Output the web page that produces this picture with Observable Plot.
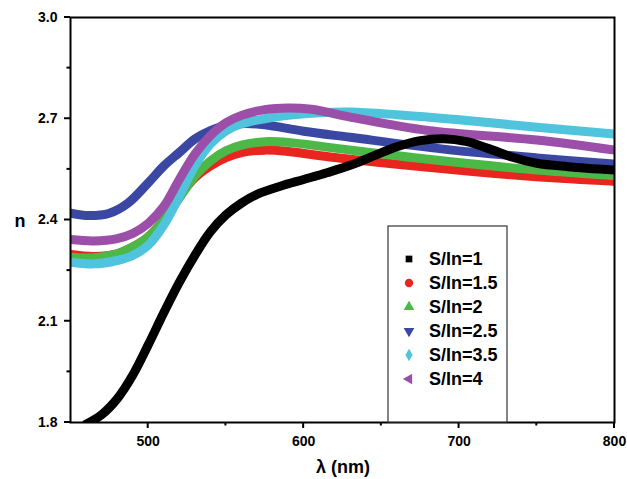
<!DOCTYPE html>
<html><head><meta charset="utf-8">
<script src="https://cdn.jsdelivr.net/npm/d3@7"></script>
<script src="https://cdn.jsdelivr.net/npm/@observablehq/plot@0.6"></script>
<style>body{margin:0;background:#fff}#chart{position:relative;width:627px;height:479px}</style>
</head><body><div id="chart"></div>
<script>
// Series labels and colours
const seriesNames = ["S/In=1", "S/In=1.5", "S/In=2", "S/In=2.5", "S/In=3.5", "S/In=4"];
const seriesColors = ["#000000", "#e8251f", "#4cb848", "#3b48a3", "#4fc4dc", "#9b4fa9"];

// S/In=1 (black)
const lam1 = [460, 470, 480, 490, 500, 510, 520, 530, 540, 550, 560, 570, 585, 600, 615, 630, 645, 660, 675, 690, 705, 720, 735, 750, 770, 800];
const n1   = [1.795, 1.823, 1.87, 1.94, 2.03, 2.125, 2.215, 2.295, 2.365, 2.415, 2.45, 2.476, 2.50, 2.52, 2.54, 2.562, 2.59, 2.617, 2.635, 2.641, 2.632, 2.61, 2.585, 2.568, 2.558, 2.548];
// S/In=1.5 (red)
const lam15 = [450, 465, 480, 490, 500, 510, 520, 530, 540, 550, 560, 575, 590, 620, 680, 750, 800];
const n15   = [2.298, 2.292, 2.30, 2.32, 2.35, 2.40, 2.47, 2.525, 2.56, 2.585, 2.60, 2.607, 2.603, 2.585, 2.556, 2.528, 2.515];
// S/In=2 (green)
const lam2 = [450, 465, 480, 490, 500, 510, 520, 530, 540, 550, 560, 575, 590, 620, 680, 750, 800];
const n2   = [2.29, 2.288, 2.30, 2.32, 2.35, 2.40, 2.465, 2.53, 2.575, 2.605, 2.622, 2.632, 2.63, 2.613, 2.58, 2.548, 2.532];
// S/In=2.5 (blue)
const lam25 = [450, 462, 475, 487, 500, 510, 520, 530, 540, 550, 562, 575, 600, 630, 690, 750, 800];
const n25   = [2.42, 2.413, 2.42, 2.45, 2.51, 2.56, 2.60, 2.64, 2.665, 2.68, 2.686, 2.682, 2.663, 2.645, 2.61, 2.584, 2.566];
// S/In=3.5 (cyan)
const lam35 = [450, 465, 480, 490, 500, 510, 520, 530, 540, 550, 560, 575, 590, 610, 630, 660, 700, 750, 800];
const n35   = [2.275, 2.27, 2.28, 2.295, 2.325, 2.385, 2.47, 2.56, 2.625, 2.664, 2.685, 2.70, 2.71, 2.718, 2.72, 2.712, 2.697, 2.675, 2.655];
// S/In=4 (magenta)
const lam4 = [450, 465, 480, 490, 500, 510, 520, 530, 540, 550, 560, 575, 590, 605, 630, 680, 750, 800];
const n4   = [2.342, 2.338, 2.345, 2.36, 2.39, 2.44, 2.52, 2.595, 2.65, 2.688, 2.71, 2.727, 2.732, 2.728, 2.705, 2.665, 2.637, 2.607];

// Axis ticks
const xTicks = [500, 600, 700, 800];
const xMinor = [550, 650, 750];
const yTicks = [1.8, 2.1, 2.4, 2.7, 3.0];
const yMinor = [1.95, 2.25, 2.55, 2.85];
const xTitle = "λ (nm)";
const yTitle = "n";

const toRows = (lam, n) => lam.map((l, i) => ({lam: l, n: n[i]}));
const series = [
  toRows(lam1, n1), toRows(lam15, n15), toRows(lam2, n2),
  toRows(lam25, n25), toRows(lam35, n35), toRows(lam4, n4)
];
// drawing order: red, green, blue, cyan, magenta, black on top
const drawOrder = [1, 2, 3, 4, 5, 0];

const chart = Plot.plot({
  width: 627, height: 479,
  marginLeft: 70, marginRight: 13, marginTop: 17, marginBottom: 57,
  style: {fontFamily: "'Liberation Sans', Arial, sans-serif", fontWeight: "bold", fontSize: "14px", color: "#000", background: "#fff"},
  x: {domain: [450, 800]},
  y: {domain: [1.8, 3.0]},
  marks: [
    ...drawOrder.map(i => Plot.line(series[i], {x: "lam", y: "n", stroke: seriesColors[i], strokeWidth: 9, curve: "catmull-rom", clip: true})),
    Plot.frame({stroke: "#000", strokeWidth: 2}),
    Plot.axisX({ticks: xTicks, tickSize: 0, tickPadding: 14, tickFormat: d => String(d), label: null}),
    Plot.axisY({ticks: yTicks, tickSize: 0, tickPadding: 13, tickFormat: d3.format(".1f"), label: null})
  ]
});
document.getElementById("chart").appendChild(chart);

const svg = d3.select(chart);
const xs = chart.scale("x"), ys = chart.scale("y");
const x0 = xs.range[0], y0 = ys.range[0];
const tg = svg.append("g").attr("stroke", "#000").attr("stroke-width", 2);
xTicks.forEach(t => tg.append("line").attr("x1", xs.apply(t)).attr("x2", xs.apply(t)).attr("y1", y0).attr("y2", y0 + 6));
xMinor.forEach(t => tg.append("line").attr("x1", xs.apply(t)).attr("x2", xs.apply(t)).attr("y1", y0).attr("y2", y0 + 3.5));
yTicks.forEach(t => tg.append("line").attr("y1", ys.apply(t)).attr("y2", ys.apply(t)).attr("x1", x0).attr("x2", x0 - 6));
yMinor.forEach(t => tg.append("line").attr("y1", ys.apply(t)).attr("y2", ys.apply(t)).attr("x1", x0).attr("x2", x0 - 3.5));

// axis titles
svg.append("text").attr("x", 343).attr("y", 473).attr("text-anchor", "middle")
  .style("font-size", "18px").style("font-weight", "bold").text(xTitle);
svg.append("text").attr("x", 20).attr("y", 227).attr("text-anchor", "middle")
  .style("font-size", "18px").style("font-weight", "bold").text(yTitle);

// legend
const lg = svg.append("g");
lg.append("rect").attr("x", 388).attr("y", 226).attr("width", 119).attr("height", 196)
  .attr("fill", "#fff").attr("stroke", "#333").attr("stroke-width", 1.2);
const symbols = [
  {type: d3.symbolSquare, size: 45, rot: 0},
  {type: d3.symbolCircle, size: 55, rot: 0},
  {type: d3.symbolTriangle, size: 50, rot: 0},
  {type: d3.symbolTriangle, size: 50, rot: 180},
  {type: d3.symbolDiamond, size: 45, rot: 0},
  {type: d3.symbolTriangle, size: 50, rot: -90}
];
seriesNames.forEach((name, i) => {
  const cy = 259 + i * 24;
  lg.append("path").attr("d", d3.symbol(symbols[i].type, symbols[i].size)())
    .attr("transform", `translate(409,${cy}) rotate(${symbols[i].rot})`)
    .attr("fill", seriesColors[i]);
  lg.append("text").attr("x", 429).attr("y", cy).attr("dy", "0.36em").attr("text-anchor", "start")
    .style("font-size", "18px").style("font-weight", "bold").text(name);
});
</script>
</body></html>
